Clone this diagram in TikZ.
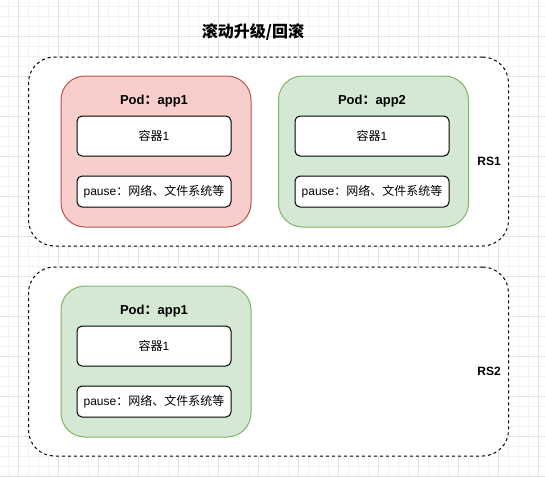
\documentclass[tikz,border=0pt]{standalone}
\usepackage{fontspec}
\usepackage{xcolor}
\usepackage{tikz}
\setmainfont{Liberation Sans}
\newfontfamily\cjk{Noto Sans CJK SC}
\definecolor{podred}{HTML}{F8CECC}
\definecolor{podredline}{HTML}{B85450}
\definecolor{podgreen}{HTML}{D5E8D4}
\definecolor{podgreenline}{HTML}{82B366}

\begin{document}
\begin{tikzpicture}[x=1pt, y=-1pt,
  rsbox/.style={draw=black, line width=1pt, dash pattern=on 3pt off 3pt, rounded corners=26pt, fill=white, minimum width=480pt, minimum height=189pt},
  podbox/.style={draw, line width=1pt, rounded corners=24pt, minimum width=190pt, minimum height=151pt},
  ctrbox/.style={draw=black, line width=1pt, fill=white, rounded corners=5pt, minimum width=154pt, minimum height=40pt, font=\fontsize{12pt}{14pt}\selectfont},
  pausebox/.style={ctrbox, minimum height=31pt},
  podlabel/.style={font=\fontsize{13pt}{15pt}\selectfont\bfseries},
  rslabel/.style={font=\fontsize{12pt}{14pt}\selectfont\bfseries}]
\useasboundingbox (0,0) rectangle (545,477);
\fill[white] (0,0) rectangle (545,477);
\foreach \x in {8,18,...,545} \draw[black!5, line width=0.8pt] (\x,0) -- (\x,477);
\foreach \y in {6,16,...,477} \draw[black!5, line width=0.8pt] (0,\y) -- (545,\y);
\foreach \x in {18,58,...,545} \draw[black!11, line width=0.8pt] (\x,0) -- (\x,477);
\foreach \y in {36,76,...,477} \draw[black!11, line width=0.8pt] (0,\y) -- (545,\y);

\node[font=\fontsize{16pt}{18pt}\selectfont\bfseries\cjk] (title) at (253,32) {滚动升级/回滚};

\node[rsbox] (rs1) at (268.5,151.5) {};
\node[rsbox] (rs2) at (268.5,361.5) {};
\node[rslabel] (rs1label) at (489,161) {RS1};
\node[rslabel] (rs2label) at (489,371) {RS2};

\node[podbox, fill=podred, draw=podredline] (pod1) at (156,151.5) {};
\node[podlabel] (pod1name) at (154,101) {Pod{\cjk：}app1};
\node[ctrbox] (pod1ctr) at (154,136) {{\cjk 容器}1};
\node[pausebox] (pod1pause) at (154,191.5) {pause{\cjk：网络、文件系统等}};

\node[podbox, fill=podgreen, draw=podgreenline] (pod2) at (373.5,151.5) {};
\node[podlabel] (pod2name) at (372,101) {Pod{\cjk：}app2};
\node[ctrbox] (pod2ctr) at (372,136) {{\cjk 容器}1};
\node[pausebox] (pod2pause) at (372,191.5) {pause{\cjk：网络、文件系统等}};

\node[podbox, fill=podgreen, draw=podgreenline] (pod3) at (156,361.5) {};
\node[podlabel] (pod3name) at (154,311) {Pod{\cjk：}app1};
\node[ctrbox] (pod3ctr) at (154,346) {{\cjk 容器}1};
\node[pausebox] (pod3pause) at (154,401.5) {pause{\cjk：网络、文件系统等}};

\end{tikzpicture}
\end{document}
